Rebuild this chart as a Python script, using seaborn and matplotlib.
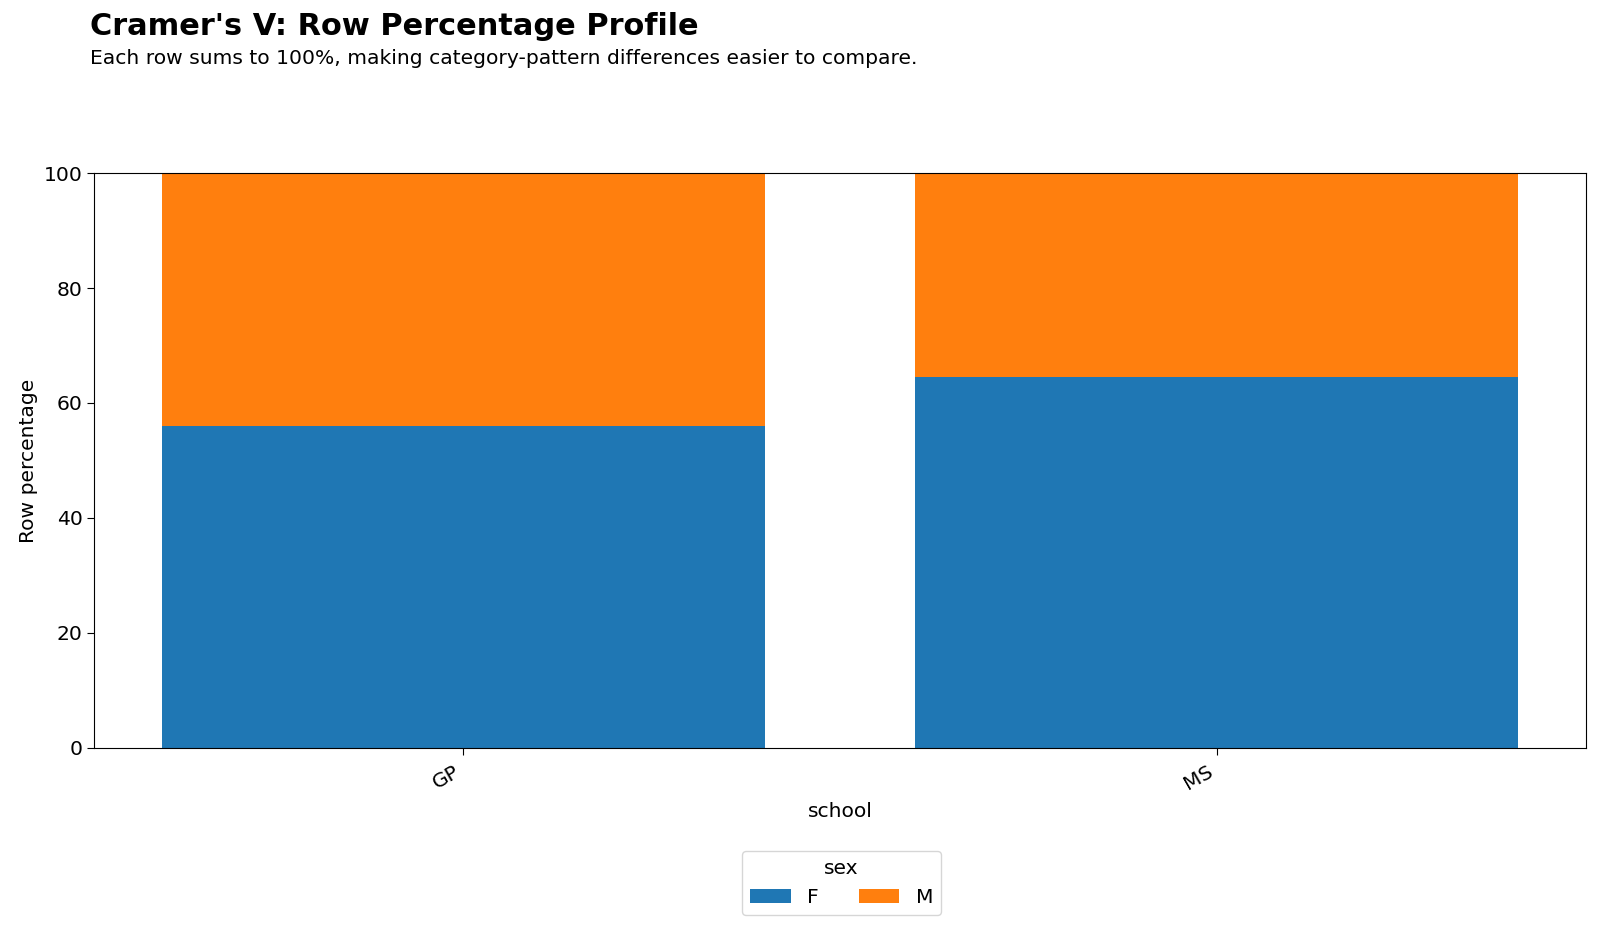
import matplotlib
matplotlib.use("Agg")
import matplotlib.pyplot as plt
import seaborn as sns
import pandas as pd

# row percentages of sex within school
schools = ["GP", "MS"]
pct_f = [56.03, 64.60]
pct_m = [43.97, 35.40]
sex_levels = ["F", "M"]

df = pd.DataFrame({"school": schools, "F": pct_f, "M": pct_m})
df["top"] = df["F"] + df["M"]

plt.rcParams["font.family"] = ["DejaVu Sans"]
fs = 14.6

fig, ax = plt.subplots(figsize=(16, 9.31), dpi=100)
fig.subplots_adjust(left=0.059, right=0.991, top=0.814, bottom=0.197)

blue, orange = "#1f77b4", "#ff7f0e"
# stacked: draw total (M on top) first, then F over it
sns.barplot(data=df, x="school", y="top", color=orange, width=0.8,
            saturation=1, linewidth=0, ax=ax, label="M")
sns.barplot(data=df, x="school", y="F", color=blue, width=0.8,
            saturation=1, linewidth=0, ax=ax, label="F")

ax.set_xlim(-0.49, 1.49)
ax.set_ylim(0, 100)
ax.set_xlabel("school", fontsize=fs, labelpad=6)
ax.set_ylabel("Row percentage", fontsize=fs)
ax.tick_params(axis="both", labelsize=fs, length=5)
ax.tick_params(axis="x", pad=5.5)
plt.setp(ax.get_xticklabels(), rotation=30, ha="right")

handles, labels = ax.get_legend_handles_labels()
order = [labels.index(k) for k in sex_levels]
if ax.get_legend():
    ax.get_legend().remove()
fig.legend([handles[i] for i in order], [labels[i] for i in order],
           title="sex", loc="lower center", bbox_to_anchor=(0.526, 0.006),
           ncol=2, fontsize=fs, title_fontsize=fs, frameon=True)

fig.text(0.0565, 0.971, "Cramer's V: Row Percentage Profile", fontsize=21.9,
         fontweight="bold", ha="left", va="center")
fig.text(0.0565, 0.937, "Each row sums to 100%, making category-pattern differences easier to compare.",
         fontsize=fs, ha="left", va="center")

fig.savefig("out.png", dpi=100)
